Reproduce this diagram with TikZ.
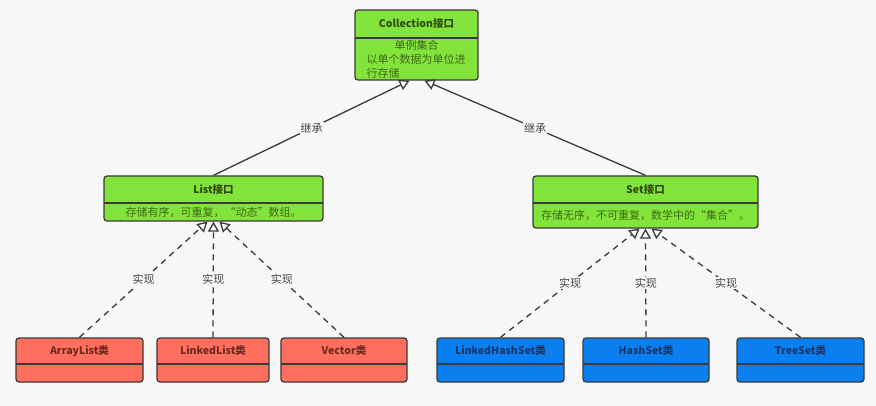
\documentclass[tikz,border=0pt]{standalone}
\usepackage{fontspec}
\setmainfont{Noto Sans CJK SC}
\usetikzlibrary{arrows.meta,fit}
\definecolor{bg}{HTML}{F7F7F7}
\definecolor{gfill}{HTML}{82E33A}
\definecolor{rfill}{HTML}{FF6F5E}
\definecolor{bfill}{HTML}{0B7FF0}
\definecolor{edgec}{HTML}{3A3A3A}
\definecolor{gtext}{HTML}{2F4A12}
\definecolor{gbody}{HTML}{3F6A18}
\definecolor{rtext}{HTML}{6E2A20}
\definecolor{btext}{HTML}{17386E}
\definecolor{lbltext}{HTML}{444444}
\newcommand\clsbox[9]{%
  \coordinate (#1-nw) at (#2,#3);
  \coordinate (#1-se) at (#4,#5);
  \node[cls, fill=#7, fit=(#1-nw)(#1-se)] (#1) {};
  \draw[divider] (#2,#6) -- (#4,#6);
  \node[ttl, text=#8] (#1-t) at ({(#2+#4)/2},{(#3+#6)/2}) {#9};
}
\begin{document}
\begin{tikzpicture}[x=1pt,y=-1pt,
  cls/.style={draw=edgec, line width=1.3pt, rounded corners=3pt, inner sep=0pt},
  divider/.style={draw=edgec, line width=1.3pt},
  ttl/.style={font=\bfseries\fontsize{10.5}{12}\selectfont, inner sep=0pt},
  body/.style={font=\fontsize{11}{14}\selectfont, inner sep=0pt},
  inh/.style={draw=edgec, line width=1.3pt, -{Triangle[fill=white, length=10pt, width=11pt]}},
  impl/.style={inh, dash pattern=on 6pt off 5pt},
  lbl/.style={fill=bg, font=\fontsize{11}{12}\selectfont, inner sep=1pt, text=lbltext}]
\useasboundingbox[fill=bg] (0,0) rectangle (876,406);

% boxes
\clsbox{coll}{355}{10}{478}{80}{38}{gfill}{gtext}{Collection接口}
\node[body, text=gbody, text width=100pt, align=left] (coll-b) at (416.5,59)
  {\makebox[100pt]{单例集合}\\以单个数据为单位进\\行存储};

\clsbox{list}{104}{176}{323}{221}{203}{gfill}{gtext}{List接口}
\node[body, text=gbody] (list-b) at (213.5,212) {存储有序，可重复，“动态”数组。};

\clsbox{set}{533}{176}{758}{228}{203}{gfill}{gtext}{Set接口}
\node[body, text=gbody] (set-b) at (645.5,215.5) {存储无序，不可重复，数学中的“集合”。};

\clsbox{al}{16}{338}{143}{382}{364}{rfill}{rtext}{ArrayList类}
\clsbox{ll}{157}{338}{269}{382}{364}{rfill}{rtext}{LinkedList类}
\clsbox{vec}{281}{338}{407}{382}{364}{rfill}{rtext}{Vector类}
\clsbox{lhs}{437}{338}{564}{382}{364}{bfill}{btext}{LinkedHashSet类}
\clsbox{hs}{583}{338}{709}{382}{364}{bfill}{btext}{HashSet类}
\clsbox{ts}{737}{338}{864}{382}{364}{bfill}{btext}{TreeSet类}

% arrow end points
\coordinate (collL) at ([xshift=-7pt]coll.south);
\coordinate (collR) at ([xshift=8pt]coll.south);
\coordinate (listL) at ([xshift=-6pt]list.south);
\coordinate (listM) at (list.south);
\coordinate (listR) at ([xshift=6pt]list.south);
\coordinate (setL) at ([xshift=-6pt]set.south);
\coordinate (setM) at (set.south);
\coordinate (setR) at ([xshift=6pt]set.south);

% inheritance
\draw[inh] (list.north) -- node[lbl] (l1) {继承} (collL);
\draw[inh] (set.north) -- node[lbl] (l2) {继承} (collR);

% implementation
\draw[impl] (al.north) -- node[lbl] (l3) {实现} (listL);
\draw[impl] (ll.north) -- node[lbl] (l4) {实现} (listM);
\draw[impl] (vec.north) -- node[lbl] (l5) {实现} (listR);
\draw[impl] (lhs.north) -- node[lbl] (l6) {实现} (setL);
\draw[impl] (hs.north) -- node[lbl] (l7) {实现} (setM);
\draw[impl] (ts.north) -- node[lbl] (l8) {实现} (setR);
\end{tikzpicture}
\end{document}
